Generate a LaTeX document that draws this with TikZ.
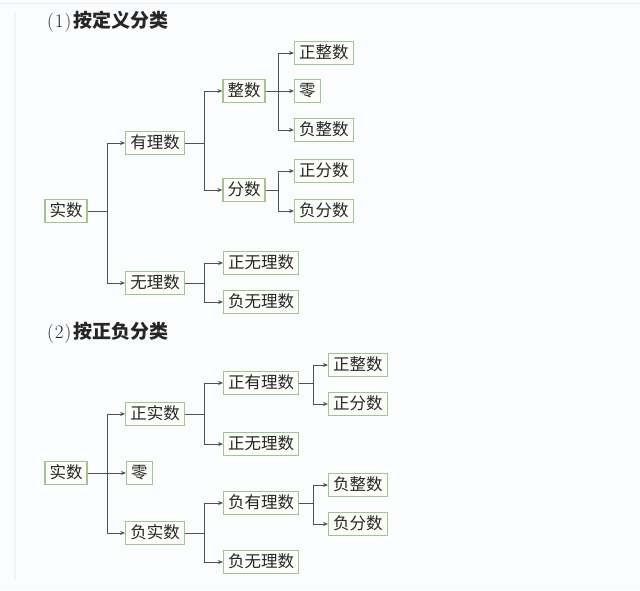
\documentclass[tikz,border=0pt]{standalone}
\usepackage{fontspec}
\newfontfamily\cjk{Noto Sans CJK SC}
\usetikzlibrary{arrows.meta}
\definecolor{boxgreen}{RGB}{160,198,140}
\definecolor{linegray}{RGB}{80,80,80}
\definecolor{edgecyan}{RGB}{236,247,245}
\tikzset{
  numbox/.style={draw=boxgreen,line width=1.3pt,fill={rgb,255:red,253;green,253;blue,250},inner xsep=4.5pt,inner ysep=0pt,
    minimum height=23pt,text height=13pt,text depth=3pt,text=black!85,font=\cjk\fontsize{16.5pt}{16.5pt}\selectfont},
  branch/.style={draw=linegray,line width=1pt,-{Stealth[length=5pt,width=4pt]}},
  heading/.style={anchor=west,inner sep=0pt,text=black!85,font=\cjk\bfseries\fontsize{19pt}{19pt}\selectfont}
}
\newcommand{\secno}[1]{{\rmfamily\mdseries\fontsize{19pt}{19pt}\selectfont(\kern1pt#1\kern1pt)\kern2pt}}
\begin{document}
\begin{tikzpicture}[x=1pt,y=1pt,yscale=-1]
\useasboundingbox[fill={rgb,255:red,251;green,252;blue,254}] (0,0) rectangle (640,590);
\draw[edgecyan,line width=2pt] (15,12) -- (15,580);
\draw[gray!15,line width=0.6pt] (0,3) -- (640,3);
\node[heading] (t1) at (47,22) {\secno{1}按定义分类};
\node[numbox] (a1) at (66,211) {实数};
\node[numbox] (q1) at (155,143) {有理数};
\node[numbox] (i1) at (155,283) {无理数};
\node[numbox] (z1) at (244,91) {整数};
\node[numbox] (f1) at (244,190) {分数};
\node[numbox,anchor=west] (pz1) at (294,53) {正整数};
\node[numbox,anchor=west] (zero1) at (294,91) {零};
\node[numbox,anchor=west] (nz1) at (294,130) {负整数};
\node[numbox,anchor=west] (pf1) at (294,171) {正分数};
\node[numbox,anchor=west] (nf1) at (294,211) {负分数};
\node[numbox,anchor=west] (pi1) at (223,263) {正无理数};
\node[numbox,anchor=west] (ni1) at (223,302) {负无理数};
\draw[branch] (a1.east) -- ++(20,0) |- (q1.west);
\draw[branch] (a1.east) -- ++(20,0) |- (i1.west);
\draw[branch] (q1.east) -- ++(20,0) |- (z1.west);
\draw[branch] (q1.east) -- ++(20,0) |- (f1.west);
\draw[branch] (z1.east) -- ++(13,0) |- (pz1.west);
\draw[branch] (z1.east) -- (zero1.west);
\draw[branch] (z1.east) -- ++(13,0) |- (nz1.west);
\draw[branch] (f1.east) -- ++(13,0) |- (pf1.west);
\draw[branch] (f1.east) -- ++(13,0) |- (nf1.west);
\draw[branch] (i1.east) -- ++(20,0) |- (pi1.west);
\draw[branch] (i1.east) -- ++(20,0) |- (ni1.west);
\node[heading] (t2) at (47,333) {\secno{2}按正负分类};
\node[numbox] (a2) at (66,473) {实数};
\node[numbox] (p2) at (155,414) {正实数};
\node[numbox,anchor=west] (zero2) at (126,473) {零};
\node[numbox] (n2) at (155,533) {负实数};
\node[numbox,anchor=west] (pq2) at (223,383) {正有理数};
\node[numbox,anchor=west] (pi2) at (223,444) {正无理数};
\node[numbox,anchor=west] (nq2) at (223,503) {负有理数};
\node[numbox,anchor=west] (ni2) at (223,562) {负无理数};
\node[numbox,anchor=west] (pz2) at (328,365) {正整数};
\node[numbox,anchor=west] (pf2) at (328,404) {正分数};
\node[numbox,anchor=west] (nz2) at (328,485) {负整数};
\node[numbox,anchor=west] (nf2) at (328,524) {负分数};
\draw[branch] (a2.east) -- ++(20,0) |- (p2.west);
\draw[branch] (a2.east) -- (zero2.west);
\draw[branch] (a2.east) -- ++(20,0) |- (n2.west);
\draw[branch] (p2.east) -- ++(20,0) |- (pq2.west);
\draw[branch] (p2.east) -- ++(20,0) |- (pi2.west);
\draw[branch] (n2.east) -- ++(20,0) |- (nq2.west);
\draw[branch] (n2.east) -- ++(20,0) |- (ni2.west);
\draw[branch] (pq2.east) -- ++(14,0) |- (pz2.west);
\draw[branch] (pq2.east) -- ++(14,0) |- (pf2.west);
\draw[branch] (nq2.east) -- ++(14,0) |- (nz2.west);
\draw[branch] (nq2.east) -- ++(14,0) |- (nf2.west);
\end{tikzpicture}
\end{document}
